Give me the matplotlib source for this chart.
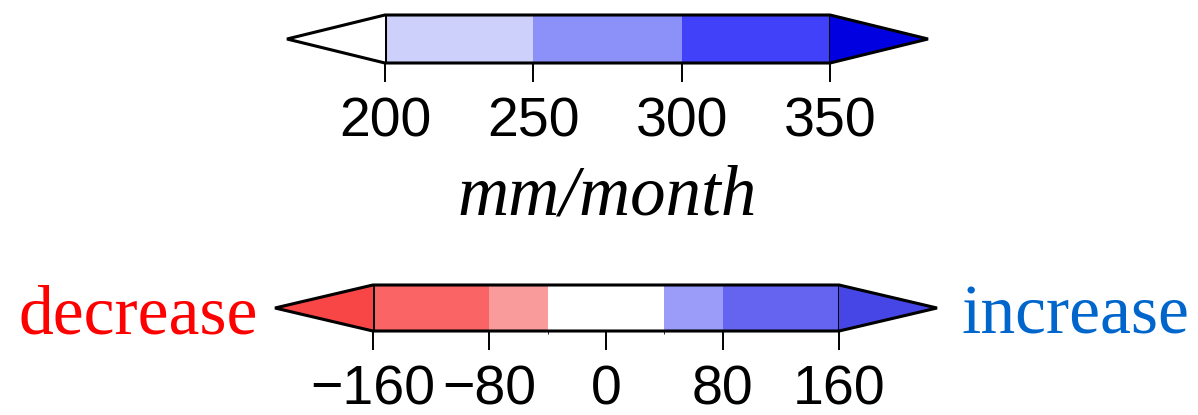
import matplotlib
matplotlib.use("Agg")
import matplotlib.pyplot as plt
from matplotlib.colors import ListedColormap, BoundaryNorm
from matplotlib.colorbar import ColorbarBase

# top bar: precipitation amount
top_bounds = [200, 250, 300, 350]
top_colors = ["#cdd0fa", "#8c91fa", "#4141fa"]
top_under = "#ffffff"
top_over = "#0000e0"
top_ticks = [200, 250, 300, 350]
top_label = "mm/month"

# bottom bar: change
bot_bounds = [-160, -80, -40, 40, 80, 160]
bot_colors = ["#fa6464", "#fa9b9b", "#ffffff", "#9b9bfa", "#6464f0"]
bot_under = "#f84646"
bot_over = "#4646e6"
bot_ticks = [-160, -80, 0, 80, 160]

fig = plt.figure(figsize=(11.98, 4.15), dpi=100)
W, H = 1198.0, 415.0


def make_bar(x0, x1, y0, y1, ef, bounds, colors, under, over, ticks):
    # x0..x1 covers the whole bar including the triangles (pixels)
    ax = fig.add_axes([x0 / W, 1 - y1 / H, (x1 - x0) / W, (y1 - y0) / H])
    cmap = ListedColormap(colors)
    cmap.set_under(under)
    cmap.set_over(over)
    norm = BoundaryNorm(bounds, cmap.N)
    cb = ColorbarBase(ax, cmap=cmap, norm=norm, orientation="horizontal",
                      extend="both", extendfrac=ef, ticks=ticks,
                      spacing="proportional")
    cb.outline.set_linewidth(2.2)
    cb.outline.set_edgecolor("black")
    # dark lines where the triangles meet the bar
    ax.axvline(bounds[0], color="black", lw=2.2)
    ax.axvline(bounds[-1], color="black", lw=2.2)
    ax.tick_params(axis="x", length=14, width=1.4, pad=10,
                   labelsize=40, direction="out")
    for t in ax.get_xticklabels():
        t.set_fontfamily("Liberation Sans")
    return cb


cb1 = make_bar(287, 928, 15, 63, 0.22, top_bounds, top_colors,
               top_under, top_over, top_ticks)
cb1.ax.set_xlabel(top_label, fontsize=51, family="Liberation Serif",
                  style="italic", labelpad=12)

cb2 = make_bar(275, 937, 285, 331, 0.21, bot_bounds, bot_colors,
               bot_under, bot_over, bot_ticks)

fig.text(138 / W, 1 - 333 / H, "decrease", color="#ff0000", fontsize=50,
         family="Liberation Serif", ha="center", va="baseline")
fig.text(1075 / W, 1 - 333 / H, "increase", color="#0066cc", fontsize=50,
         family="Liberation Serif", ha="center", va="baseline")

fig.savefig("out.png", dpi=100)
